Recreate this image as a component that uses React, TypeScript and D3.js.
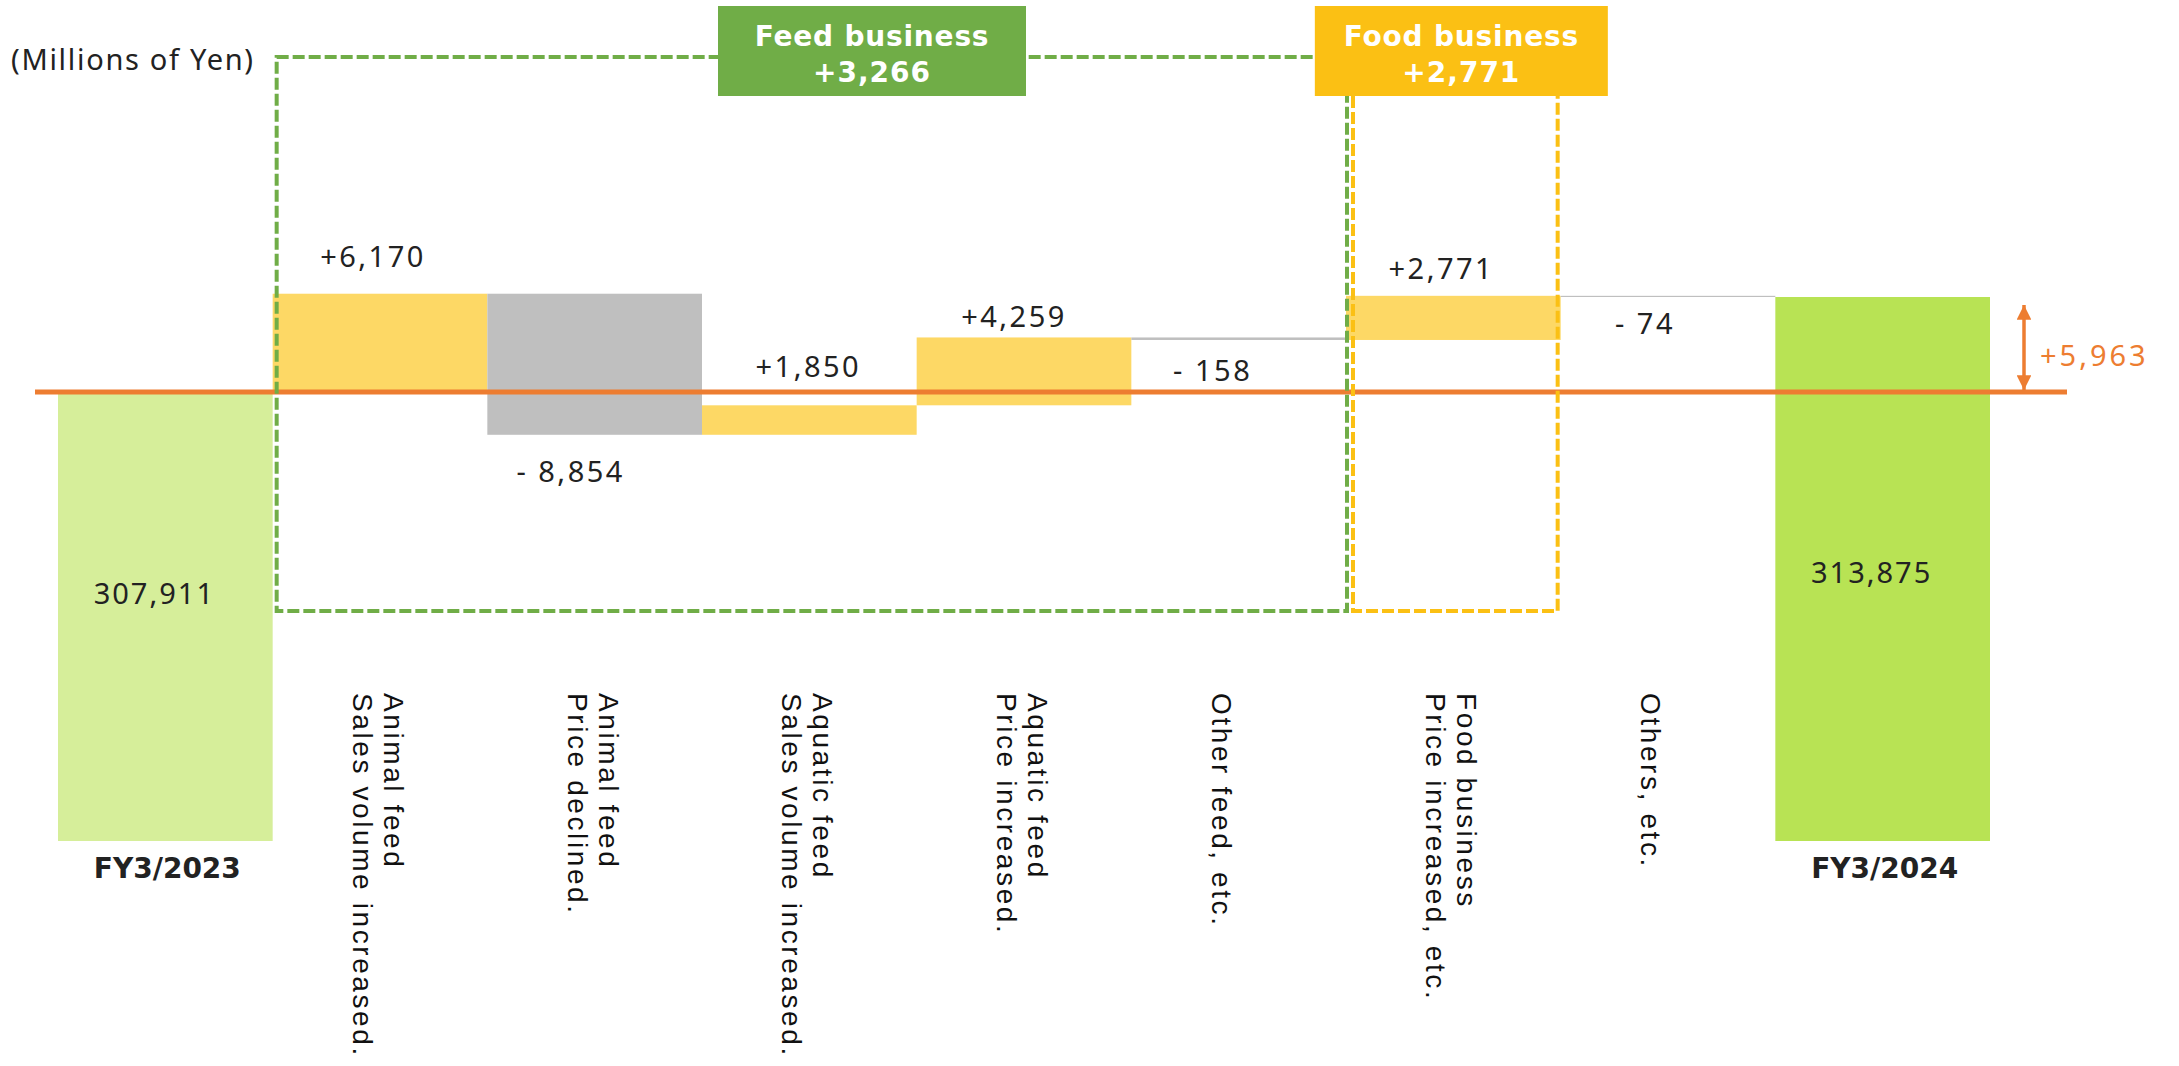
import React from "react";
import * as d3 from "d3";

// ---- data ----
const totalNames = ["FY3/2023", "FY3/2024"];
const totalValues = [307911, 313875];
const totalLabels = ["307,911", "313,875"];
const stepLines = [
  ["Animal feed", "Sales volume increased."],
  ["Animal feed", "Price declined."],
  ["Aquatic feed", "Sales volume increased."],
  ["Aquatic feed", "Price increased."],
  ["Other feed, etc."],
  ["Food business", "Price increased, etc."],
  ["Others, etc."],
];
const stepValues = [6170, -8854, 1850, 4259, -158, 2771, -74];
const stepLabels = ["+6,170", "- 8,854", "+1,850", "+4,259", "- 158", "+2,771", "- 74"];
const groupNames = ["Feed business", "Food business"];
const groupTotals = ["+3,266", "+2,771"];
const groupFirst = [1, 6];
const groupLast = [5, 6];
const changeLabel = "+5,963";
const unitLabel = "(Millions of Yen)";
const axisFloor = 279730; // value at the broken bottom of the total bars

// ---- layout / styles ----
const W = 2179;
const H = 1066;
const C = {
  start: "#D6EE9A",
  end: "#B8E354",
  up: "#FDD865",
  down: "#BFBFBF",
  orange: "#ED7D31",
  feed: "#70AD47",
  food: "#FBC014",
  text: "#222",
};
const NUM_FONT = "'Noto Sans', sans-serif";
const BOLD_FONT = "'DejaVu Sans', sans-serif";
const LBL_FONT = "'Liberation Sans', Arial, sans-serif";
// label nudges: [dx from band centre, dy from bar edge]
const stepLabelDx = [-7, -24, -1, -10, -26, -12, -23];
const stepLabelDy = [-27, 47, -28, -10, 41, -17, 37];
const totalLabelY = [604, 583];

export default function App() {
  const n = stepValues.length + 2;
  const x = d3.scaleBand<number>().domain(d3.range(n)).range([58, 1990]).padding(0);
  const bw = x.bandwidth();
  const y = d3.scaleLinear().domain([axisFloor, totalValues[1]]).range([841, 297]);
  const cx = (i: number) => (x(i) as number) + bw / 2;

  // cumulative steps
  let run = totalValues[0];
  const steps = stepValues.map((v, k) => {
    const from = run;
    run += v;
    return { k, i: k + 1, from, to: run, v, label: stepLabels[k], lines: stepLines[k] };
  });

  const totals = [
    { k: 0, i: 0, v: totalValues[0], name: totalNames[0], label: totalLabels[0], color: C.start },
    { k: 1, i: n - 1, v: totalValues[1], name: totalNames[1], label: totalLabels[1], color: C.end },
  ];

  const baseY = y(totalValues[0]);
  const endY = y(totalValues[1]);
  const arrowX = x.range()[1] + 34;

  // group frames
  const gx0 = (x(groupFirst[0]) as number) + 4;
  const gx1 = (x(groupLast[0]) as number) + bw + 1;
  const fx0 = (x(groupFirst[1]) as number) + 7;
  const fx1 = (x(groupLast[1]) as number) + bw - 3;
  const boxTop = 6;
  const boxH = 90;
  const boxes = [
    { cx: 872, w: 308, color: C.feed },
    { cx: cx(groupFirst[1]) + 8, w: 293, color: C.food },
  ];

  return (
    <svg width={W} height={H} style={{ position: "absolute", left: 0, top: 0, background: "#fff" }}>
      <defs>
        <marker
          id="ah"
          viewBox="0 0 10 10"
          refX="10"
          refY="5"
          markerWidth="4.2"
          markerHeight="4.2"
          orient="auto-start-reverse"
        >
          <path d="M0,0 L10,5 L0,10 z" fill={C.orange} />
        </marker>
      </defs>
      <rect width={W} height={H} fill="#fff" />

      {/* total bars */}
      {totals.map((t) => (
        <g key={t.name}>
          <rect x={x(t.i)} y={y(t.v)} width={bw} height={y(axisFloor) - y(t.v)} fill={t.color} />
          <text
            x={cx(t.i) - 11}
            y={totalLabelY[t.k]}
            textAnchor="middle"
            fontFamily={NUM_FONT}
            fontSize={29}
            letterSpacing={2}
            fill={C.text}
          >
            {t.label}
          </text>
          <text
            x={cx(t.i) + 2}
            y={878}
            textAnchor="middle"
            fontFamily={BOLD_FONT}
            fontWeight="bold"
            fontSize={28}
            fill={C.text}
          >
            {t.name}
          </text>
        </g>
      ))}

      {/* step bars */}
      {steps.map((s) => {
        const top = y(Math.max(s.from, s.to));
        const bot = y(Math.min(s.from, s.to));
        const pos = s.v > 0;
        return (
          <g key={s.i}>
            <rect x={x(s.i)} y={top} width={bw} height={Math.max(1, bot - top)} fill={pos ? C.up : C.down} />
            <text
              x={cx(s.i) + stepLabelDx[s.k]}
              y={(pos ? top : bot) + stepLabelDy[s.k]}
              textAnchor="middle"
              fontFamily={NUM_FONT}
              fontSize={29}
              letterSpacing={2.5}
              fill={C.text}
            >
              {s.label}
            </text>
            {s.lines.map((ln, j) => (
              <text
                key={j}
                transform={`translate(${cx(s.i) - 27 + 31 * (s.lines.length - 1 - j)},693) rotate(90)`}
                fontFamily={LBL_FONT}
                fontSize={28}
                letterSpacing={2.6}
                fill="#111"
              >
                {ln}
              </text>
            ))}
          </g>
        );
      })}

      {/* baseline */}
      <line x1={x.range()[0] - 23} x2={x.range()[1] + 77} y1={baseY} y2={baseY} stroke={C.orange} strokeWidth={5} />

      {/* change arrow */}
      <line
        x1={arrowX}
        x2={arrowX}
        y1={endY + 8}
        y2={baseY - 2}
        stroke={C.orange}
        strokeWidth={3.5}
        markerStart="url(#ah)"
        markerEnd="url(#ah)"
      />
      <text
        x={arrowX + 16}
        y={(endY + baseY) / 2 + 21}
        fontFamily={NUM_FONT}
        fontSize={29}
        letterSpacing={3}
        fill={C.orange}
      >
        {changeLabel}
      </text>

      {/* group dashed frames */}
      <rect
        x={gx0}
        y={57}
        width={gx1 - gx0}
        height={611 - 57}
        fill="none"
        stroke={C.feed}
        strokeWidth={4}
        strokeDasharray="12,4"
      />
      <path
        d={`M${fx0},${boxTop + boxH} V611 H${fx1} V${boxTop + boxH}`}
        fill="none"
        stroke={C.food}
        strokeWidth={4}
        strokeDasharray="12,4"
      />

      {/* group labels */}
      {boxes.map((b, k) => (
        <g key={groupNames[k]}>
          <rect x={b.cx - b.w / 2} y={boxTop} width={b.w} height={boxH} fill={b.color} />
          <text
            x={b.cx}
            y={boxTop + 40}
            textAnchor="middle"
            fontFamily={BOLD_FONT}
            fontWeight="bold"
            fontSize={28}
            letterSpacing={0.8}
            fill="#fff"
          >
            {groupNames[k]}
          </text>
          <text
            x={b.cx}
            y={boxTop + 76}
            textAnchor="middle"
            fontFamily={BOLD_FONT}
            fontWeight="bold"
            fontSize={28}
            letterSpacing={1}
            fill="#fff"
          >
            {groupTotals[k]}
          </text>
        </g>
      ))}

      {/* unit */}
      <text x={11} y={70} fontFamily={NUM_FONT} fontSize={29} letterSpacing={1.7} fill={C.text}>
        {unitLabel}
      </text>
    </svg>
  );
}
